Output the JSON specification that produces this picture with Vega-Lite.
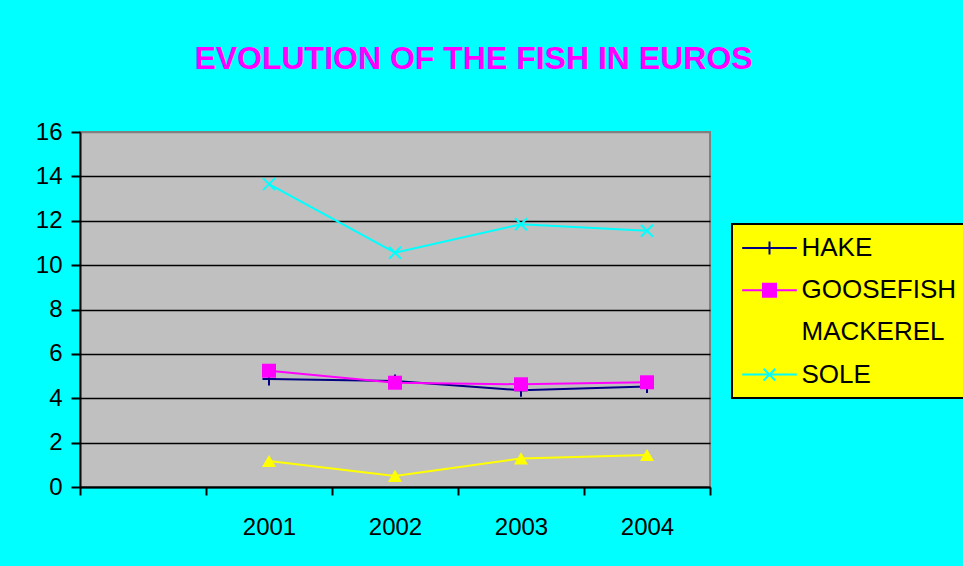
{
  "$schema": "https://vega.github.io/schema/vega-lite/v6.json",
  "width": 630,
  "height": 355,
  "autosize": {"type": "none"},
  "padding": {"left": 80, "top": 132, "right": 253, "bottom": 79},
  "background": "#00FFFF",
  "title": {
    "text": "EVOLUTION OF THE FISH IN EUROS",
    "color": "#FF00FF",
    "fontSize": 32,
    "fontWeight": "bold",
    "font": "Liberation Sans",
    "anchor": "middle",
    "frame": "group",
    "dx": 78.5,
    "baseline": "alphabetic",
    "offset": 19
  },
  "data": {
    "values": [
      {"series": "HAKE", "year": "2001", "value": 4.87},
      {"series": "HAKE", "year": "2002", "value": 4.78},
      {"series": "HAKE", "year": "2003", "value": 4.36},
      {"series": "HAKE", "year": "2004", "value": 4.53},
      {"series": "GOOSEFISH", "year": "2001", "value": 5.24},
      {"series": "GOOSEFISH", "year": "2002", "value": 4.70},
      {"series": "GOOSEFISH", "year": "2003", "value": 4.63},
      {"series": "GOOSEFISH", "year": "2004", "value": 4.72},
      {"series": "MACKEREL", "year": "2001", "value": 1.17},
      {"series": "MACKEREL", "year": "2002", "value": 0.50},
      {"series": "MACKEREL", "year": "2003", "value": 1.29},
      {"series": "MACKEREL", "year": "2004", "value": 1.44},
      {"series": "SOLE", "year": "2001", "value": 13.65},
      {"series": "SOLE", "year": "2002", "value": 10.56},
      {"series": "SOLE", "year": "2003", "value": 11.84},
      {"series": "SOLE", "year": "2004", "value": 11.55}
    ]
  },
  "encoding": {
    "x": {
      "field": "year",
      "type": "nominal",
      "bandPosition": 0.5,
      "scale": {"type": "band", "domain": [" ", "2001", "2002", "2003", "2004"], "paddingInner": 0, "paddingOuter": 0},
      "axis": {
        "title": null,
        "labelAngle": 0,
        "tickBand": "extent",
        "tickSize": 8,
        "tickWidth": 2,
        "tickColor": "black",
        "domainColor": "black",
        "domainWidth": 2,
        "labelFontSize": 24,
        "labelFont": "Liberation Sans",
        "labelColor": "black",
        "labelPadding": 20,
        "grid": false
      }
    },
    "y": {
      "field": "value",
      "type": "quantitative",
      "scale": {"domain": [0, 16], "nice": false},
      "axis": {
        "title": null,
        "values": [0, 2, 4, 6, 8, 10, 12, 14, 16],
        "tickSize": 9,
        "tickWidth": 2,
        "tickColor": "black",
        "domainColor": "black",
        "domainWidth": 2,
        "labelFontSize": 24,
        "labelFont": "Liberation Sans",
        "labelColor": "black",
        "labelPadding": 9,
        "grid": true,
        "gridColor": {"condition": {"test": "datum.value == 16", "value": "#808080"}, "value": "black"},
        "gridWidth": 1.5,
        "gridOpacity": 1
      }
    }
  },
  "layer": [
    {
      "mark": {"type": "line", "strokeWidth": 2},
      "encoding": {
        "color": {
          "field": "series",
          "type": "nominal",
          "scale": {"domain": ["SOLE", "MACKEREL", "GOOSEFISH", "HAKE"], "range": ["#00FFFF", "#FFFF00", "#FF00FF", "#000080"]},
          "legend": null
        }
      }
    },
    {
      "transform": [{"filter": "datum.series == 'HAKE'"}],
      "mark": {"type": "point", "shape": "M-1,0H1M0,-1V1", "size": 169, "color": "#000080", "strokeWidth": 2, "opacity": 1, "filled": false}
    },
    {
      "transform": [{"filter": "datum.series == 'GOOSEFISH'"}],
      "mark": {"type": "point", "shape": "square", "size": 196, "color": "#FF00FF", "opacity": 1, "filled": true}
    },
    {
      "transform": [{"filter": "datum.series == 'MACKEREL'"}],
      "mark": {"type": "point", "shape": "triangle-up", "size": 196, "color": "#FFFF00", "opacity": 1, "filled": true}
    },
    {
      "transform": [{"filter": "datum.series == 'SOLE'"}],
      "mark": {"type": "point", "shape": "M-1,-1L1,1M1,-1L-1,1", "size": 144, "color": "#00FFFF", "strokeWidth": 2, "opacity": 1, "filled": false}
    },
    {
      "transform": [{"filter": "datum.value > 100"}],
      "mark": {"type": "point", "strokeWidth": 2, "opacity": 1, "filled": false},
      "encoding": {
        "stroke": {
          "field": "series",
          "type": "nominal",
          "scale": {"domain": ["HAKE", "GOOSEFISH", "MACKEREL", "SOLE"], "range": ["#000080", "#FF00FF", "#FFFF00", "#00FFFF"]},
          "legend": {"title": null, "orient": "none", "legendX": 652, "legendY": 92}
        },
        "fill": {
          "field": "series",
          "type": "nominal",
          "scale": {"domain": ["HAKE", "GOOSEFISH", "MACKEREL", "SOLE"], "range": ["transparent", "#FF00FF", "#FFFF00", "transparent"]},
          "legend": {"title": null, "orient": "none", "legendX": 652, "legendY": 92}
        },
        "shape": {
          "field": "series",
          "type": "nominal",
          "scale": {
            "domain": ["HAKE", "GOOSEFISH", "MACKEREL", "SOLE"],
            "range": [
              "M-2.1,0H2.1M0,-0.5V0.5",
              "M-2.1,0H2.1M-0.5,-0.5H0.5V0.5H-0.5Z",
              "M-2.1,0H2.1M0,-0.45L0.5,0.4L-0.5,0.4Z",
              "M-2.1,0H2.1M-0.45,-0.45L0.45,0.45M0.45,-0.45L-0.45,0.45"
            ]
          },
          "legend": {"title": null, "orient": "none", "legendX": 652, "legendY": 92}
        }
      }
    }
  ],
  "config": {
    "view": {"fill": "#C0C0C0", "stroke": "#808080", "strokeWidth": 2},
    "legend": {
      "fillColor": "#FFFF00",
      "strokeColor": "black",
      "strokeWidth": 2,
      "padding": 10,
      "labelFont": "Liberation Sans",
      "labelFontSize": 26,
      "labelColor": "black",
      "labelLimit": 400,
      "symbolSize": 676,
      "symbolStrokeWidth": 2,
      "symbolOffset": 13.5,
      "labelOffset": 18,
      "rowPadding": 15.2,
      "symbolFillColor": "transparent",
      "symbolOpacity": 1
    }
  }
}
